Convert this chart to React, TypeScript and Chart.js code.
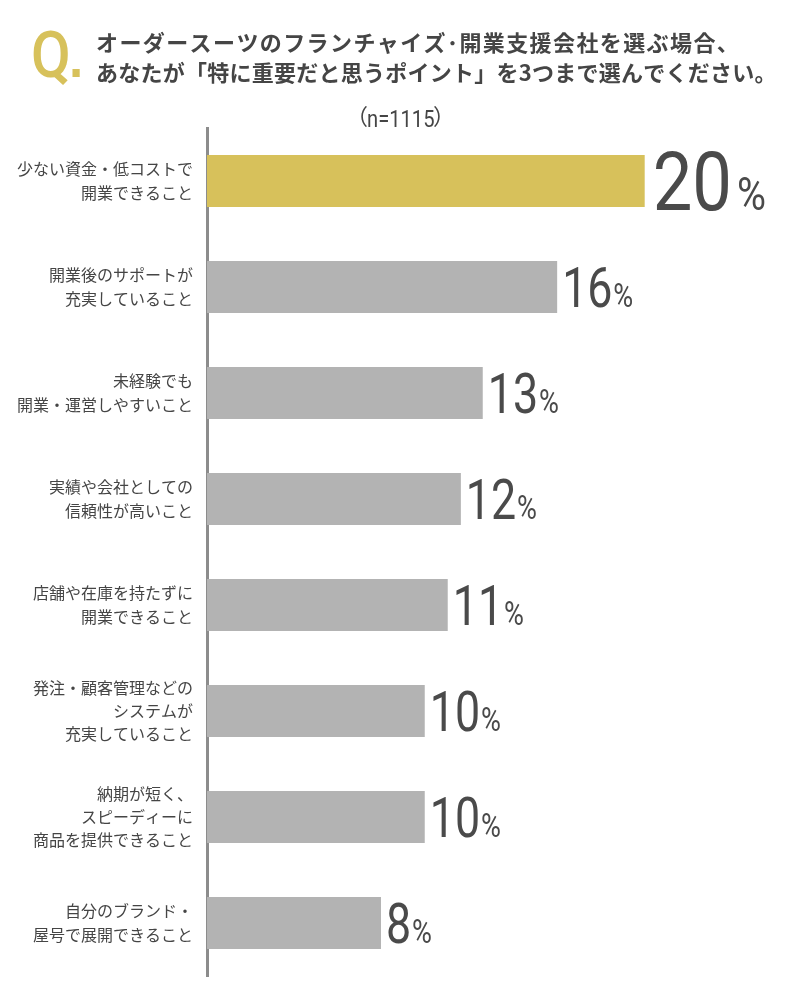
import { useEffect, useRef } from "react";
import { Chart, ChartOptions, Plugin, registerables } from "chart.js";

Chart.register(...registerables);

// Survey answers (top 3 choices), n=1115
const categories: string[][] = [
  ["少ない資金・低コストで", "開業できること"],
  ["開業後のサポートが", "充実していること"],
  ["未経験でも", "開業・運営しやすいこと"],
  ["実績や会社としての", "信頼性が高いこと"],
  ["店舗や在庫を持たずに", "開業できること"],
  ["発注・顧客管理などの", "システムが", "充実していること"],
  ["納期が短く、", "スピーディーに", "商品を提供できること"],
  ["自分のブランド・", "屋号で展開できること"],
];
const shares = [20.0, 16.0, 12.6, 11.6, 11.0, 9.95, 9.95, 7.95];
const shareLabels = ["20", "16", "13", "12", "11", "10", "10", "8"];

const titleLines = [
  "オーダースーツのフランチャイズ･開業支援会社を選ぶ場合、",
  "あなたが「特に重要だと思うポイント」を3つまで選んでください。",
];
const sampleSize = "n=1115";

const GOLD = "#D7C15B";
const GREY = "#B3B3B3";
const TEXT = "#454545";
const JP = "'Noto Sans CJK JP', 'Noto Sans', sans-serif";
const NUM = "Roboto, 'DejaVu Sans', sans-serif";

const headerPlugin: Plugin<"bar"> = {
  id: "header",
  beforeDraw(chart) {
    const ctx = chart.ctx as CanvasRenderingContext2D & { letterSpacing: string };
    ctx.save();
    ctx.fillStyle = GOLD;
    ctx.textAlign = "left";
    ctx.textBaseline = "alphabetic";
    ctx.save();
    ctx.translate(31, 77);
    ctx.scale(0.9, 1);
    ctx.font = `500 64px ${NUM}`;
    ctx.fillText("Q", 0, 0);
    const qw = ctx.measureText("Q").width;
    ctx.fillRect(qw + 2, -8, 8, 8);
    ctx.restore();

    ctx.fillStyle = TEXT;
    ctx.font = `bold 22px ${JP}`;
    ctx.textBaseline = "middle";
    ctx.letterSpacing = "1.4px";
    ctx.fillText(titleLines[0], 96, 43);
    ctx.letterSpacing = "0.25px";
    ctx.fillText(titleLines[1], 96, 73);
    ctx.letterSpacing = "0px";

    // (n=1115)
    ctx.font = `22px ${JP}`;
    ctx.textAlign = "right";
    ctx.fillText("（", 368, 116);
    ctx.textAlign = "left";
    ctx.fillText("）", 433, 116);
    ctx.save();
    ctx.translate(367, 127);
    ctx.scale(0.84, 1);
    ctx.textBaseline = "alphabetic";
    ctx.font = `24px ${NUM}`;
    ctx.fillText(sampleSize, 0, 0);
    ctx.restore();
    ctx.restore();
  },
};

const valuePlugin: Plugin<"bar"> = {
  id: "values",
  afterDatasetsDraw(chart) {
    const ctx = chart.ctx;
    const meta = chart.getDatasetMeta(0);
    ctx.save();
    ctx.fillStyle = "#4a4a4a";
    ctx.textAlign = "left";
    ctx.textBaseline = "alphabetic";
    meta.data.forEach((bar, i) => {
      const big = i === 0;
      const numSize = big ? 82 : 56;
      const pctSize = big ? 46 : 34;
      const sx = big ? 0.86 : 0.8;
      const baseline = bar.y + (numSize * 0.711) / 2;
      const x0 = bar.x + (big ? 8 : 5);
      ctx.save();
      ctx.translate(x0, baseline);
      ctx.scale(sx, 1);
      ctx.font = `400 ${numSize}px ${NUM}`;
      ctx.fillText(shareLabels[i], 0, 0);
      const w = ctx.measureText(shareLabels[i]).width;
      ctx.font = `400 ${pctSize}px ${NUM}`;
      ctx.fillText("%", w + (big ? 6 : 1), 0);
      ctx.restore();
    });
    ctx.restore();
  },
};

export default function App() {
  const canvasRef = useRef<HTMLCanvasElement>(null);
  const chartRef = useRef<Chart<"bar"> | null>(null);

  useEffect(() => {
    if (!canvasRef.current) return;
    if (chartRef.current) chartRef.current.destroy();

    const options: ChartOptions<"bar"> = {
      indexAxis: "y",
      responsive: true,
      maintainAspectRatio: false,
      animation: false,
      layout: { padding: { top: 128, bottom: 24, left: 0, right: 24 } },
      plugins: {
        legend: { display: false },
        tooltip: { enabled: false },
      },
      scales: {
        x: { display: false, min: 0, max: 26 },
        y: {
          grid: { display: false, drawTicks: false },
          border: { display: true, color: "#8C8C8C", width: 3 },
          ticks: {
            color: TEXT,
            padding: 14,
            font: { family: JP, size: 16, lineHeight: 1.45 },
          },
          afterFit(scale) {
            scale.width = 207;
            scale.paddingTop = 0;
            scale.paddingBottom = 0;
          },
        },
      },
    };

    chartRef.current = new Chart(canvasRef.current, {
      type: "bar",
      data: {
        labels: categories,
        datasets: [
          {
            data: shares,
            backgroundColor: shares.map((_, i) => (i === 0 ? GOLD : GREY)),
            barPercentage: 0.49,
            categoryPercentage: 1,
          },
        ],
      },
      options,
      plugins: [headerPlugin, valuePlugin],
    });

    return () => {
      chartRef.current?.destroy();
      chartRef.current = null;
    };
  }, []);

  return (
    <div style={{ position: "absolute", left: 0, top: 0, width: 800, height: 1000, background: "#fff" }}>
      <canvas ref={canvasRef}></canvas>
    </div>
  );
}
